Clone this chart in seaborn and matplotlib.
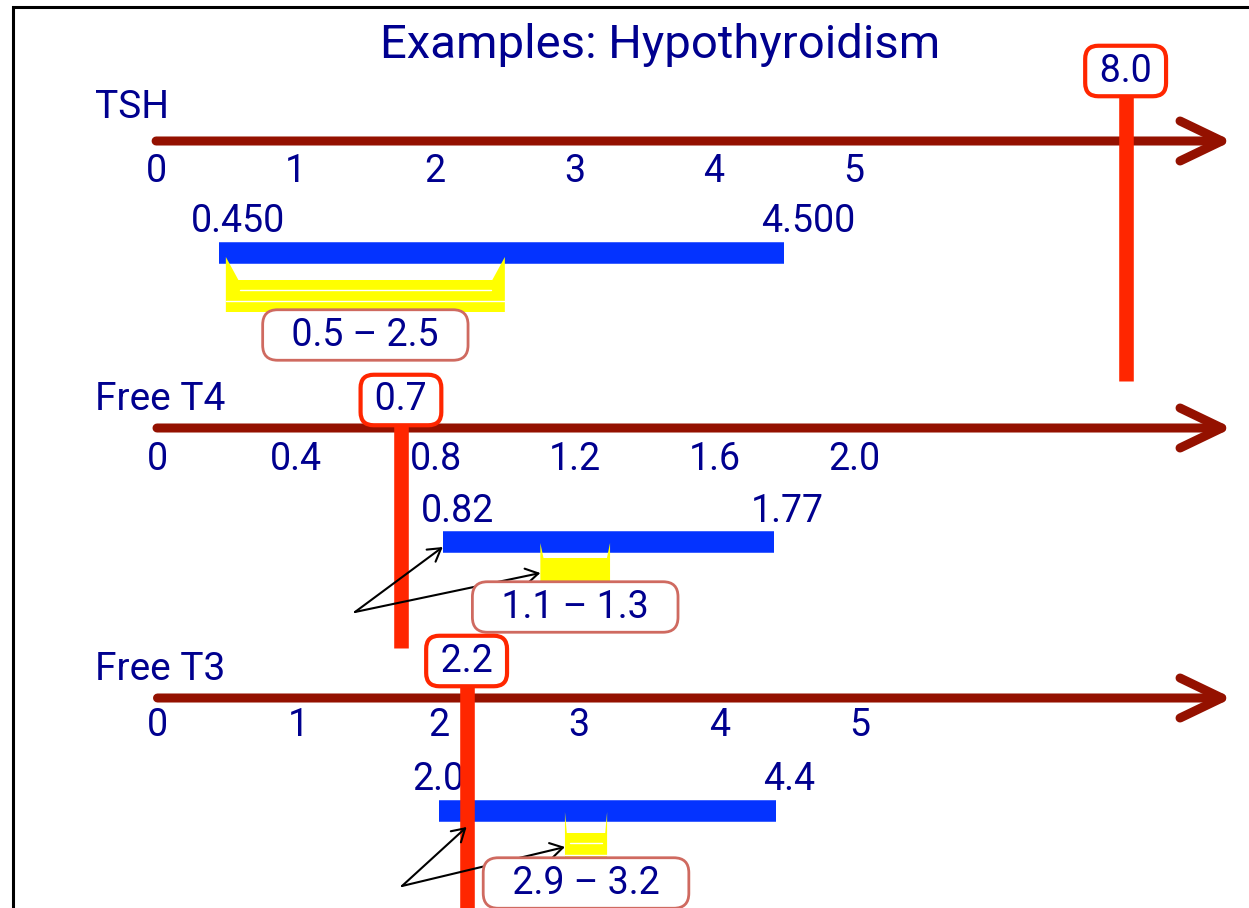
import numpy as np
import pandas as pd
import matplotlib
matplotlib.use("Agg")
import matplotlib.pyplot as plt
from matplotlib.patches import Rectangle
import seaborn as sns

# ---------------- data ----------------
row_names = ["TSH", "Free T4", "Free T3"]

tsh_ticks = [0, 1, 2, 3, 4, 5]
tsh_tick_labels = ["0", "1", "2", "3", "4", "5"]
t4_ticks = [0, 0.4, 0.8, 1.2, 1.6, 2.0]
t4_tick_labels = ["0", "0.4", "0.8", "1.2", "1.6", "2.0"]
t3_ticks = [0, 1, 2, 3, 4, 5]
t3_tick_labels = ["0", "1", "2", "3", "4", "5"]

tsh_reference = [0.45, 4.5]
tsh_reference_labels = ["0.450", "4.500"]
t4_reference = [0.82, 1.77]
t4_reference_labels = ["0.82", "1.77"]
t3_reference = [2.0, 4.4]
t3_reference_labels = ["2.0", "4.4"]

tsh_optimal = [0.5, 2.5]
t4_optimal = [1.1, 1.3]
t3_optimal = [2.9, 3.2]
optimal_labels = ["0.5 \u2013 2.5", "1.1 \u2013 1.3", "2.9 \u2013 3.2"]

patient_values = [8.0, 0.7, 2.2]
patient_labels = ["8.0", "0.7", "2.2"]

# ---------------- style ----------------
sns.set_theme(style="white")
plt.rcParams["font.family"] = ["Roboto", "DejaVu Sans"]

NAVY = "#00008F"
DARKRED = "#941100"
BLUE = "#0433FF"
YELLOW = "#FFFF00"
RED = "#FF2600"
SALMON = "#CF6A60"
NUM_FS = 27

W, H = 1249, 908
fig = plt.figure(figsize=(W / 100, H / 100), dpi=100)

# pixel layout per row (x origin, px per unit) and vertical positions (px)
layouts = [
    dict(x0=156.1, ppu=139.5, label_y=107, axis_y=141, tick_y=172, end_y=222,
         blue_y=253, ear_top=257, body_top=280, bottom=312, box_y=335,
         mbox_y=71, line_top=95, line_bottom=381, end_off=(19, 24),
         gaps=[(290, 0.05), (301, 0.0)], arrow_start=None, arrow_ys=None),
    dict(x0=157.0, ppu=348.5, label_y=400, axis_y=428, tick_y=460, end_y=511,
         blue_y=542, ear_top=543, body_top=558, bottom=581, box_y=607,
         mbox_y=400, line_top=425, line_bottom=648, end_off=(15, 13),
         gaps=[], arrow_start=(355, 612), arrow_ys=(547, 573)),
    dict(x0=157.5, ppu=140.5, label_y=670, axis_y=698, tick_y=726, end_y=779,
         blue_y=811, ear_top=812, body_top=833, bottom=863, box_y=883,
         mbox_y=661, line_top=686, line_bottom=915, end_off=(0, 13),
         gaps=[(843, 0.12), (855, 0.0)], arrow_start=(402, 886), arrow_ys=(827, 847)),
]

ticks_all = [(tsh_ticks, tsh_tick_labels), (t4_ticks, t4_tick_labels), (t3_ticks, t3_tick_labels)]
refs_all = [(tsh_reference, tsh_reference_labels), (t4_reference, t4_reference_labels),
            (t3_reference, t3_reference_labels)]
opts_all = [tsh_optimal, t4_optimal, t3_optimal]
arrow_targets = [None, [t4_reference[0], t4_optimal[0]], [patient_values[2], t3_optimal[0]]]

# broken (compressed) scale for TSH beyond 6
K = 0.475
def fwd(x):
    x = np.asarray(x, dtype=float)
    return np.where(x <= 6, x, 6 + (x - 6) * K)
def inv(y):
    y = np.asarray(y, dtype=float)
    return np.where(y <= 6, y, 6 + (y - 6) / K)

for i, L in enumerate(layouts):
    ax = fig.add_axes([0, 0, 1, 1])
    ax.set_facecolor("none")
    ax.patch.set_alpha(0)
    if i == 0:
        ax.set_xscale("function", functions=(fwd, inv))

    lo, hi = refs_all[i][0]
    # reference range (blue bar)
    df = pd.DataFrame({"x": [lo, hi], "y": [L["blue_y"], L["blue_y"]]})
    sns.lineplot(data=df, x="x", y="y", ax=ax, color=BLUE, lw=15.5, estimator=None,
                 sort=False, solid_capstyle="butt", legend=False, zorder=3)

    # optimal range (yellow tray)
    olo, ohi = opts_all[i]
    w = 0.045 * (ohi - olo)
    xs = [olo, olo, olo + w, ohi - w, ohi, ohi]
    ys = [L["bottom"], L["ear_top"], L["body_top"], L["body_top"], L["ear_top"], L["bottom"]]
    ax.fill(xs, ys, color=YELLOW, lw=0, zorder=4)
    for gy, frac in L["gaps"]:
        m = frac * (ohi - olo)
        ax.plot([olo + m, ohi - m], [gy, gy], color="white", lw=1.0, zorder=4.5)

    # axis arrow
    ax.annotate("", xy=(0.9865, L["axis_y"]), xycoords=("axes fraction", "data"),
                xytext=(0, L["axis_y"]), textcoords="data",
                arrowprops=dict(arrowstyle="->,head_length=1.5,head_width=0.72",
                                lw=6.5, color=DARKRED, shrinkA=0, shrinkB=0,
                                mutation_scale=20, capstyle="round", joinstyle="round"),
                zorder=2)

    # tick labels
    for t, lab in zip(*ticks_all[i]):
        ax.text(t, L["tick_y"], lab, ha="center", va="center", fontsize=NUM_FS,
                color=NAVY, zorder=3)

    # reference labels
    for v, lab, off in zip(refs_all[i][0], refs_all[i][1], L["end_off"]):
        ax.annotate(lab, xy=(v, L["end_y"]), xytext=(off, 0), textcoords="offset pixels",
                    ha="center", va="center", fontsize=NUM_FS, color=NAVY, zorder=3)

    # row label
    ax.text(95 / W, L["label_y"], row_names[i], transform=ax.get_yaxis_transform(),
            ha="left", va="center", fontsize=28, color=NAVY)

    # optimal label box
    ax.text((olo + ohi) / 2, L["box_y"], "  \u200a" + optimal_labels[i] + "\u200a  ",
            ha="center", va="center", fontsize=NUM_FS, color=NAVY, zorder=7,
            bbox=dict(boxstyle="round,pad=0.18,rounding_size=0.4", fc="white",
                      ec=SALMON, lw=2.0))

    # patient value marker
    pv = patient_values[i]
    ax.plot([pv, pv], [L["line_top"], L["line_bottom"]], color=RED, lw=10.5,
            solid_capstyle="butt", zorder=5)
    ax.text(pv, L["mbox_y"], "\u2009" + patient_labels[i] + "\u2009", ha="center",
            va="center", fontsize=NUM_FS, color=NAVY, zorder=7,
            bbox=dict(boxstyle="round,pad=0.18,rounding_size=0.35", fc="white",
                      ec=RED, lw=3.0))

    # pointer arrows
    if arrow_targets[i] is not None:
        sx, sy = L["arrow_start"]
        for tx, ty in zip(arrow_targets[i], L["arrow_ys"]):
            ax.annotate("", xy=(tx, ty), xycoords="data",
                        xytext=(sx / W, sy), textcoords=("axes fraction", "data"),
                        arrowprops=dict(arrowstyle="->,head_length=0.45,head_width=0.27",
                                        lw=1.5, color="black", shrinkA=0, shrinkB=0,
                                        mutation_scale=20),
                        zorder=6)

    # limits mapping to pixel layout
    left = -L["x0"] / L["ppu"]
    right = (W - L["x0"]) / L["ppu"]
    if i == 0:
        left, right = float(inv(left)), float(inv(right))
    ax.set_xlim(left, right)
    ax.set_ylim(H, 0)
    ax.set_axis_off()

fig.text(660 / W, 1 - 45 / H, "Examples: Hypothyroidism", ha="center", va="center",
         fontsize=34, color=NAVY)

fig.add_artist(Rectangle((12.5 / W, -0.05), 1.2, 1.05 - 7 / H, transform=fig.transFigure,
                         fill=False, ec="black", lw=2.2))

fig.savefig("out.png", dpi=100)
